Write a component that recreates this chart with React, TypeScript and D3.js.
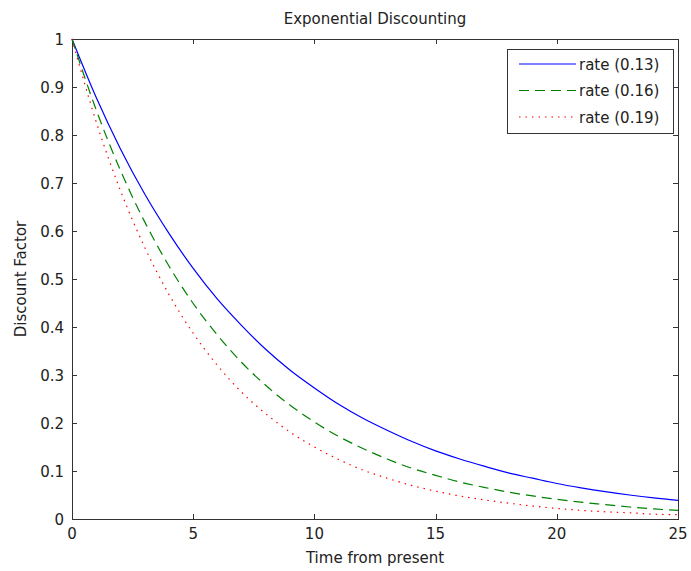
import React, { useEffect, useRef } from "react";
import * as d3 from "d3";

// time from present (years)
const times = [0, 1, 2, 3, 4, 5, 6, 7, 8, 9, 10, 11, 12, 13, 14, 15, 16, 17, 18, 19, 20, 21, 22, 23, 24, 25];

// discount factor
const rate013 = [1, 0.878, 0.771, 0.677, 0.595, 0.522, 0.458, 0.403, 0.353, 0.31, 0.273, 0.239, 0.21, 0.185, 0.162, 0.142, 0.125, 0.11, 0.096, 0.085, 0.074, 0.065, 0.057, 0.05, 0.044, 0.039];
const rate016 = [1, 0.852, 0.726, 0.619, 0.527, 0.449, 0.383, 0.326, 0.278, 0.237, 0.202, 0.172, 0.147, 0.125, 0.106, 0.091, 0.077, 0.066, 0.056, 0.048, 0.041, 0.035, 0.03, 0.025, 0.021, 0.018];
const rate019 = [1, 0.827, 0.684, 0.566, 0.468, 0.387, 0.32, 0.264, 0.219, 0.181, 0.15, 0.124, 0.102, 0.085, 0.07, 0.058, 0.048, 0.04, 0.033, 0.027, 0.022, 0.018, 0.015, 0.013, 0.01, 0.009];

const seriesNames = ["rate (0.13)", "rate (0.16)", "rate (0.19)"];
const xTicks = [0, 5, 10, 15, 20, 25];
const yTicks = [0, 0.1, 0.2, 0.3, 0.4, 0.5, 0.6, 0.7, 0.8, 0.9, 1];

const App = () => {
  const ref = useRef<SVGSVGElement>(null);

  useEffect(() => {
    const w = 691;
    const h = 571;
    const left = 72, right = 678, top = 39, bottom = 519;
    const font = "DejaVu Sans, sans-serif";
    const fs = 15;
    const axisColor = "#333";
    const textColor = "#222";

    const svg = d3.select(ref.current);
    svg.selectAll("*").remove();
    svg.attr("width", w).attr("height", h);

    svg.append("rect").attr("width", w).attr("height", h).attr("fill", "#fff");

    const x = d3.scaleLinear().domain([0, 25]).range([left, right]);
    const y = d3.scaleLinear().domain([0, 1]).range([bottom, top]);

    // box
    svg.append("rect")
      .attr("x", left + 0.5).attr("y", top + 0.5)
      .attr("width", right - left).attr("height", bottom - top)
      .attr("fill", "#fff").attr("stroke", axisColor).attr("stroke-width", 1);

    // ticks, inside on all four sides
    const tick = 5;
    xTicks.forEach((t) => {
      const xx = Math.round(x(t)) + 0.5;
      svg.append("line").attr("x1", xx).attr("x2", xx).attr("y1", bottom).attr("y2", bottom - tick).attr("stroke", axisColor);
      svg.append("line").attr("x1", xx).attr("x2", xx).attr("y1", top).attr("y2", top + tick).attr("stroke", axisColor);
      svg.append("text")
        .attr("x", x(t)).attr("y", bottom + 20)
        .attr("text-anchor", "middle")
        .attr("font-family", font).attr("font-size", fs).attr("fill", textColor)
        .text(t);
    });
    yTicks.forEach((v) => {
      const yy = Math.round(y(v)) + 0.5;
      svg.append("line").attr("x1", left).attr("x2", left + tick).attr("y1", yy).attr("y2", yy).attr("stroke", axisColor);
      svg.append("line").attr("x1", right).attr("x2", right - tick).attr("y1", yy).attr("y2", yy).attr("stroke", axisColor);
      svg.append("text")
        .attr("x", left - 8).attr("y", y(v) + 5.5)
        .attr("text-anchor", "end")
        .attr("font-family", font).attr("font-size", fs).attr("fill", textColor)
        .text(d3.format("~g")(v));
    });

    const series = [
      { name: seriesNames[0], values: rate013, color: "#0000ff", dash: null },
      { name: seriesNames[1], values: rate016, color: "#008000", dash: "10,6" },
      { name: seriesNames[2], values: rate019, color: "#ff0000", dash: "1.5,5" },
    ];

    const line = d3.line<number>()
      .x((d, i) => x(times[i]))
      .y((d) => y(d))
      .curve(d3.curveMonotoneX);

    series.forEach((s) => {
      svg.append("path")
        .datum(s.values)
        .attr("d", line)
        .attr("fill", "none")
        .attr("stroke", s.color)
        .attr("stroke-width", 1.2)
        .attr("stroke-dasharray", s.dash);
    });

    // legend
    const lg = svg.append("g");
    lg.append("rect")
      .attr("x", 507.5).attr("y", 49.5).attr("width", 166).attr("height", 84)
      .attr("fill", "#fff").attr("stroke", axisColor);
    series.forEach((s, i) => {
      const ly = 64 + i * 26.5;
      lg.append("line")
        .attr("x1", 519).attr("x2", 576).attr("y1", ly).attr("y2", ly)
        .attr("stroke", s.color).attr("stroke-width", 1.2)
        .attr("stroke-dasharray", s.dash);
      lg.append("text")
        .attr("x", 579).attr("y", ly + 5.5)
        .attr("font-family", font).attr("font-size", fs).attr("fill", textColor)
        .text(s.name);
    });

    // title and labels
    svg.append("text")
      .attr("x", (left + right) / 2).attr("y", 24)
      .attr("text-anchor", "middle")
      .attr("font-family", font).attr("font-size", fs).attr("fill", textColor)
      .text("Exponential Discounting");
    svg.append("text")
      .attr("x", (left + right) / 2).attr("y", 563)
      .attr("text-anchor", "middle")
      .attr("font-family", font).attr("font-size", fs).attr("fill", textColor)
      .text("Time from present");
    svg.append("text")
      .attr("transform", `translate(26,${(top + bottom) / 2}) rotate(-90)`)
      .attr("text-anchor", "middle")
      .attr("font-family", font).attr("font-size", fs).attr("fill", textColor)
      .text("Discount Factor");
  }, []);

  return (
    <div style={{ position: "fixed", left: 0, top: 0 }}>
      <svg ref={ref} style={{ display: "block" }} />
    </div>
  );
};

export default App;
